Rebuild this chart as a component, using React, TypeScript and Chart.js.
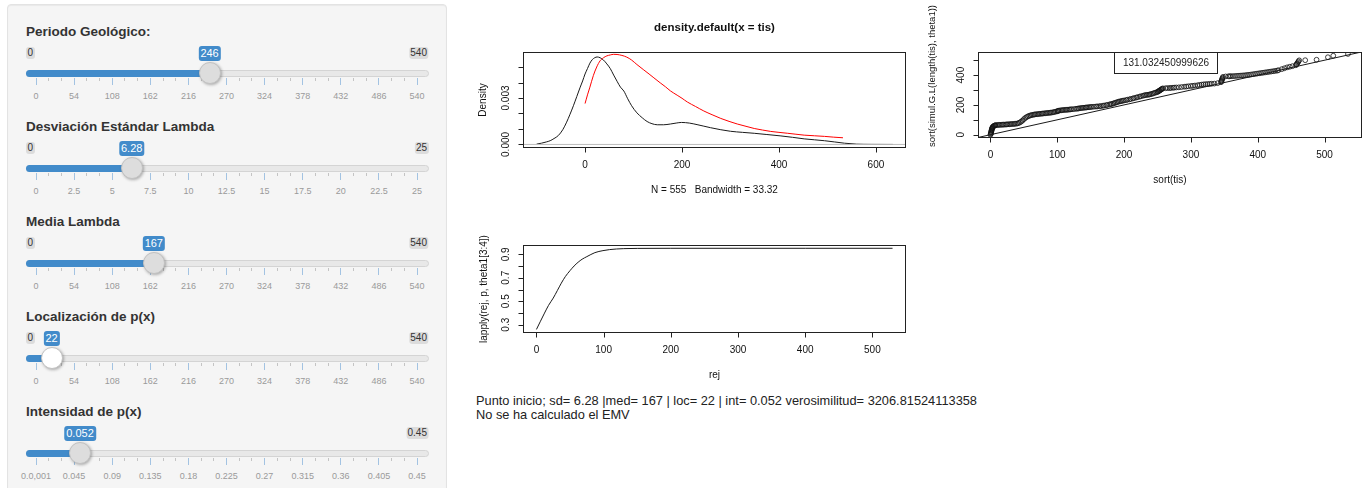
import React, { useEffect, useRef } from "react";
import { Chart, registerables } from "chart.js";

Chart.register(...registerables);

const FONT = '"Liberation Sans", Arial, sans-serif';

// ---------- Sidebar sliders ----------
const sliderTitles = [
  "Periodo Geológico:",
  "Desviación Estándar Lambda",
  "Media Lambda",
  "Localización de p(x)",
  "Intensidad de p(x)",
];
const sliderMins = [0, 0, 0, 0, 0];
const sliderMaxs = [540, 25, 540, 540, 0.45];
const sliderValues = [246, 6.28, 167, 22, 0.052];
const sliderValueText = ["246", "6.28", "167", "22", "0.052"];
const sliderMinText = ["0", "0", "0", "0", ""];
const sliderMaxText = ["540", "25", "540", "540", "0.45"];
const gridPeriodo = ["0", "54", "108", "162", "216", "270", "324", "378", "432", "486", "540"];
const gridSd = ["0", "2.5", "5", "7.5", "10", "12.5", "15", "17.5", "20", "22.5", "25"];
const gridInt = ["0.0,001", "0.045", "0.09", "0.135", "0.18", "0.225", "0.27", "0.315", "0.36", "0.405", "0.45"];
const sliderGrids = [gridPeriodo, gridSd, gridPeriodo, gridPeriodo, gridInt];

// ---------- Density plot ----------
const densityX = [-100, -90, -80, -72, -64, -55, -46, -38, -31, -24, -17, -10, -5, 0, 5, 10, 15, 20, 25, 31, 38, 45, 52, 59, 66, 73, 80, 88, 96, 107, 118, 128, 138, 149, 162, 176, 188, 199, 215, 231, 245, 259, 280, 300, 325, 349, 375, 404, 428, 452, 473, 494, 515, 535, 560, 590, 635];
const densityY = [0.00002, 0.00008, 0.00016, 0.00024, 0.00038, 0.00058, 0.00095, 0.00144, 0.00195, 0.0025, 0.0031, 0.0037, 0.0041, 0.00455, 0.0049, 0.00525, 0.00548, 0.0056, 0.00565, 0.0056, 0.00545, 0.0052, 0.0049, 0.00448, 0.00408, 0.0037, 0.00345, 0.00295, 0.0025, 0.00204, 0.00172, 0.00148, 0.00134, 0.00127, 0.00127, 0.00132, 0.00138, 0.00142, 0.00138, 0.00128, 0.00118, 0.00108, 0.00095, 0.00085, 0.00078, 0.00072, 0.00064, 0.00055, 0.00046, 0.00036, 0.0003, 0.00024, 0.00016, 0.00008, 0.00002, 0.000005, 0];
const fittedX = [0, 5, 10, 17, 24, 31, 38, 45, 52, 59, 66, 76, 86, 96, 107, 120, 132, 142, 155, 166, 176, 190, 200, 211, 228, 245, 262, 280, 297, 314, 332, 349, 366, 383, 400, 418, 435, 452, 473, 494, 513, 532];
const fittedY = [0.00264, 0.0032, 0.0037, 0.00444, 0.005, 0.0054, 0.0056, 0.00572, 0.00578, 0.00582, 0.00581, 0.00575, 0.00564, 0.00545, 0.00516, 0.00484, 0.00455, 0.0043, 0.00398, 0.00372, 0.00346, 0.00318, 0.00298, 0.00274, 0.00245, 0.00216, 0.00192, 0.00168, 0.00149, 0.00132, 0.00117, 0.00103, 0.00093, 0.00084, 0.00078, 0.00072, 0.00066, 0.0006, 0.00056, 0.00052, 0.00047, 0.00043];
const zeroLineX = [-300, 900];
const zeroLineY = [0, 0];
const densityXTicks = [0, 200, 400, 600];
const densityXLabels = ["0", "200", "400", "600"];
const densityYTicks = [0, 0.001, 0.002, 0.003, 0.004, 0.005];
const densityYLabels = ["0.000", "", "", "0.003", "", ""];

// ---------- QQ plot ----------
const qqX = [0, 0.5, 0.8, 1, 1.2, 1.5, 1.8, 2, 2.3, 2.6, 3, 3.5, 4, 5, 6, 7,
  8, 10, 12, 14, 16, 18, 20, 22, 24, 26, 28, 30, 32, 34, 36, 38, 40, 42,
  44, 46, 48, 50, 52, 54, 56, 58, 60, 62,
  64, 66, 68, 70, 72, 74, 76, 78, 80, 82, 84, 86, 88, 90, 92, 94, 96, 98, 100, 101, 102, 104,
  106, 108, 110, 112, 114, 116, 118, 120, 122, 125, 128, 130, 132, 134, 136, 138, 140, 142, 144, 146, 148, 150,
  152, 155, 158, 160, 163, 165, 168, 170, 173, 175, 178, 180, 182, 184, 186, 188, 190, 192, 194,
  196, 198, 200, 203, 205, 208, 210, 213, 215, 218, 220, 223, 225, 228, 230, 232,
  234, 236, 238, 240, 242, 244, 246, 248, 250, 251, 252, 253, 254, 255, 256, 257, 258,
  262, 265, 268, 270, 273, 275, 278, 282, 286, 290, 293, 296, 300, 303, 306, 310, 313, 316, 319, 322, 325, 328, 331, 335, 340,
  345, 345.5, 346, 346.5, 347, 347.5, 348,
  352, 356, 358, 360, 363, 366, 369, 372, 375, 378, 381, 384, 387, 390, 393, 396, 399, 402, 405, 408, 411, 414, 417, 420, 423, 426, 429, 431,
  436, 440, 444, 448, 452,
  457, 458, 459, 460, 461, 462,
  471, 488, 505, 513, 535];
const qqY = [0, 5, 10, 15, 20, 25, 30, 35, 40, 44, 48, 52, 55, 58, 61, 63,
  64, 65, 66, 66, 67, 67, 68, 68, 69, 70, 70, 71, 72, 72, 73, 74, 75, 78,
  82, 88, 95, 104, 112, 118, 123, 127, 130, 132,
  134, 136, 137, 138, 139, 140, 141, 142, 143, 144, 145, 146, 147, 148, 149, 151, 153, 155, 157, 160, 161, 163,
  164, 165, 166, 167, 167, 168, 169, 170, 171, 172, 174, 175, 176, 178, 179, 180, 181, 182, 183, 184, 185, 186,
  187, 188, 189, 190, 191, 192, 194, 196, 198, 200, 203, 205, 207, 210, 213, 216, 219, 222, 224,
  226, 228, 230, 232, 235, 237, 240, 243, 246, 249, 252, 255, 258, 261, 264, 266,
  267, 268, 270, 272, 275, 278, 281, 284, 287, 290, 293, 296, 299, 302, 305, 308, 311,
  312, 313, 313, 314, 315, 316, 317, 318, 320, 322, 323, 325, 327, 328, 330, 332, 334, 336, 338, 339, 340, 341, 342, 343, 346,
  352, 358, 364, 370, 376, 382, 388,
  391, 392, 392, 393, 393, 394, 395, 396, 397, 398, 399, 401, 402, 404, 406, 408, 410, 412, 414, 416, 418, 420, 422, 424, 426, 428, 430, 433,
  440, 446, 452, 456, 460,
  466, 472, 478, 485, 492, 499,
  500, 503, 520, 530, 542];
const qqDiagonal = [-60, 620];
const qqTicks = [0, 100, 200, 300, 400, 500];
const qqXLabels = ["0", "100", "200", "300", "400", "500"];
const qqYLabels = ["0", "", "200", "", "400", ""];
const qqLegendText = "131.032450999626";
const qqLegendBox = [185, 339, 411, 555];

// ---------- lapply plot ----------
const rejX = [0, 6, 12, 18, 25, 31, 37, 43, 50, 56, 62, 68, 75, 81, 87, 93, 99, 109, 119, 130, 150, 200, 300, 400, 530];
const lapplyY = [0.26, 0.33, 0.399, 0.465, 0.527, 0.59, 0.654, 0.71, 0.761, 0.8, 0.832, 0.858, 0.88, 0.898, 0.914, 0.924, 0.931, 0.94, 0.945, 0.948, 0.95, 0.951, 0.951, 0.951, 0.951];
const rejTicks = [0, 100, 200, 300, 400, 500];
const rejLabels = ["0", "100", "200", "300", "400", "500"];
const lapplyYTicks = [0.3, 0.4, 0.5, 0.6, 0.7, 0.8, 0.9];
const lapplyYLabels = ["0.3", "", "0.5", "", "0.7", "", "0.9"];

const summaryLine = "Punto inicio; sd= 6.28 |med= 167 | loc= 22 | int= 0.052 verosimilitud= 3206.81524113358";
const statusLine = "No se ha calculado el EMV";

const pts = (xs: number[], ys: number[]) => xs.map((x, i) => ({ x, y: ys[i] }));

type AxisSpec = {
  xTicks: number[];
  xLabels: string[];
  yTicks: number[];
  yLabels: string[];
  xTitle?: string;
  yTitle?: string;
  yTitleOffset?: number;
  yTitleCenter?: number;
  yTitleSize?: number;
  main?: string;
  mainY?: number;
  legend?: { box: number[]; text: string };
};

function makeRAxes(spec: AxisSpec) {
  return {
    id: "rAxes",
    afterDraw(chart: any) {
      const { ctx, chartArea: a } = chart;
      const xs = chart.scales.x;
      const ys = chart.scales.y;
      ctx.save();
      ctx.strokeStyle = "#222";
      ctx.fillStyle = "#111";
      ctx.lineWidth = 1;
      const L = Math.round(a.left) + 0.5;
      const R = Math.round(a.right) - 0.5;
      const T = Math.round(a.top) + 0.5;
      const B = Math.round(a.bottom) - 0.5;
      ctx.strokeRect(L, T, R - L, B - T);
      ctx.beginPath();
      spec.xTicks.forEach((v) => {
        const px = Math.round(xs.getPixelForValue(v)) + 0.5;
        ctx.moveTo(px, B);
        ctx.lineTo(px, B + 5);
      });
      spec.yTicks.forEach((v) => {
        const py = Math.round(ys.getPixelForValue(v)) + 0.5;
        ctx.moveTo(L, py);
        ctx.lineTo(L - 5, py);
      });
      ctx.stroke();
      ctx.font = `10px ${FONT}`;
      ctx.textAlign = "center";
      ctx.textBaseline = "middle";
      spec.xTicks.forEach((v, i) => {
        const lab = spec.xLabels[i];
        if (lab) ctx.fillText(lab, xs.getPixelForValue(v), a.bottom + 17);
      });
      spec.yTicks.forEach((v, i) => {
        const lab = spec.yLabels[i];
        if (lab) {
          ctx.save();
          ctx.translate(a.left - 17, ys.getPixelForValue(v));
          ctx.rotate(-Math.PI / 2);
          ctx.fillText(lab, 0, 0);
          ctx.restore();
        }
      });
      if (spec.xTitle) ctx.fillText(spec.xTitle, (a.left + a.right) / 2, a.bottom + 42);
      if (spec.yTitle) {
        ctx.save();
        ctx.font = `${spec.yTitleSize ?? 10}px ${FONT}`;
        ctx.translate(a.left - (spec.yTitleOffset ?? 40), spec.yTitleCenter ?? (a.top + a.bottom) / 2);
        ctx.rotate(-Math.PI / 2);
        ctx.fillText(spec.yTitle, 0, 0);
        ctx.restore();
      }
      if (spec.main) {
        ctx.font = `bold 11.5px ${FONT}`;
        ctx.fillText(spec.main, (a.left + a.right) / 2, spec.mainY ?? 18);
      }
      if (spec.legend) {
        const [x0, x1, y0, y1] = spec.legend.box;
        const lx0 = Math.round(xs.getPixelForValue(x0)) + 0.5;
        const lx1 = Math.round(xs.getPixelForValue(x1)) + 0.5;
        const ly0 = Math.round(ys.getPixelForValue(y0)) + 0.5;
        const ly1 = Math.round(ys.getPixelForValue(y1)) + 0.5;
        ctx.fillStyle = "#fff";
        ctx.fillRect(lx0, ly1, lx1 - lx0, ly0 - ly1);
        ctx.strokeRect(lx0, ly1, lx1 - lx0, ly0 - ly1);
        ctx.fillStyle = "#222";
        ctx.font = `10px ${FONT}`;
        ctx.fillText(spec.legend.text, (lx0 + lx1) / 2, (ly0 + ly1) / 2 + 0.5);
      }
      ctx.restore();
    },
  };
}

function lineDs(data: { x: number; y: number }[], color: string) {
  return {
    data,
    showLine: true,
    borderColor: color,
    backgroundColor: color,
    borderWidth: 1,
    pointRadius: 0,
    cubicInterpolationMode: "monotone" as const,
    fill: false,
  };
}

function baseOptions(xmin: number, xmax: number, ymin: number, ymax: number, pad: any) {
  return {
    responsive: false,
    animation: false as const,
    events: [] as any[],
    layout: { padding: pad },
    plugins: { legend: { display: false }, tooltip: { enabled: false }, title: { display: false } },
    scales: {
      x: { type: "linear" as const, min: xmin, max: xmax, display: false },
      y: { type: "linear" as const, min: ymin, max: ymax, display: false },
    },
  };
}

function densityConfig(): any {
  return {
    type: "scatter",
    data: {
      datasets: [
        lineDs(pts(fittedX, fittedY), "#ff0000"),
        lineDs(pts(zeroLineX, zeroLineY), "#bdbdbd"),
        lineDs(pts(densityX, densityY), "#1a1a1a"),
      ],
    },
    options: baseOptions(-128, 662, -0.00023, 0.00597, { left: 53, top: 42, right: 14, bottom: 52 }),
    plugins: [
      makeRAxes({
        xTicks: densityXTicks,
        xLabels: densityXLabels,
        yTicks: densityYTicks,
        yLabels: densityYLabels,
        xTitle: "N = 555   Bandwidth = 33.32",
        yTitle: "Density",
        yTitleOffset: 40,
        main: "density.default(x = tis)",
        mainY: 18,
      }),
    ],
  };
}

function qqConfig(): any {
  return {
    type: "scatter",
    data: {
      datasets: [
        lineDs(pts(qqDiagonal, qqDiagonal), "#1a1a1a"),
        {
          data: pts(qqX, qqY),
          showLine: false,
          pointStyle: "circle",
          pointRadius: 2.4,
          borderWidth: 0.8,
          borderColor: "#111",
          backgroundColor: "rgba(0,0,0,0)",
        },
      ],
    },
    options: baseOptions(-18.6, 556, -22, 555, { left: 58, top: 52, right: 7, bottom: 62 }),
    plugins: [
      makeRAxes({
        xTicks: qqTicks,
        xLabels: qqXLabels,
        yTicks: qqTicks,
        yLabels: qqYLabels,
        xTitle: "sort(tis)",
        yTitle: "sort(simul.G.L(length(tis), theta1))",
        yTitleOffset: 46,
        yTitleCenter: 76,
        yTitleSize: 9.5,
        legend: { box: qqLegendBox, text: qqLegendText },
      }),
    ],
  };
}

function lapplyConfig(): any {
  return {
    type: "scatter",
    data: { datasets: [lineDs(pts(rejX, lapplyY), "#1a1a1a")] },
    options: baseOptions(-20, 550, 0.2296, 0.979, { left: 53, top: 20, right: 14, bottom: 57 }),
    plugins: [
      makeRAxes({
        xTicks: rejTicks,
        xLabels: rejLabels,
        yTicks: lapplyYTicks,
        yLabels: lapplyYLabels,
        xTitle: "rej",
        yTitle: "lapply(rej, p, theta1[3:4])",
        yTitleOffset: 39,
      }),
    ],
  };
}

function RChart(props: { left: number; top: number; width: number; height: number; config: () => any }) {
  const ref = useRef<HTMLCanvasElement>(null);
  useEffect(() => {
    const chart = new Chart(ref.current as HTMLCanvasElement, props.config());
    return () => chart.destroy();
  }, []);
  return (
    <canvas
      ref={ref}
      width={props.width}
      height={props.height}
      style={{ position: "absolute", left: props.left, top: props.top, width: props.width, height: props.height }}
    />
  );
}

function Slider({ i }: { i: number }) {
  const L = 32 + i * 95.1;
  const x0 = 36;
  const span = 381;
  const hx = x0 + ((sliderValues[i] - sliderMins[i]) / (sliderMaxs[i] - sliderMins[i])) * span;
  const grid = sliderGrids[i];
  const step = span / (grid.length - 1);
  const abs: React.CSSProperties = { position: "absolute" };
  const minors: number[] = [];
  for (let k = 0; k < grid.length - 1; k++) {
    minors.push(x0 + k * step + step / 3, x0 + k * step + (2 * step) / 3);
  }
  return (
    <>
      <div style={{ ...abs, left: 26, top: L - 9, fontSize: 13.5, fontWeight: "bold", lineHeight: "18px", color: "#333", whiteSpace: "nowrap" }}>
        {sliderTitles[i]}
      </div>
      <div style={{ ...abs, left: 26, top: L + 38, width: 402.7, height: 7, background: "#e8e8e8", border: "1px solid #d4d4d4", borderRadius: 4, boxSizing: "border-box" }} />
      <div style={{ ...abs, left: 26, top: L + 38, width: hx - 26, height: 7, background: "#428bca", borderRadius: "4px 0 0 4px" }} />
      {grid.map((_, k) => (
        <div key={"M" + k} style={{ ...abs, left: x0 + k * step - 0.5, top: L + 45.5, width: 1, height: 7, background: "#a3c3e2" }} />
      ))}
      {minors.map((mx, k) => (
        <div key={"m" + k} style={{ ...abs, left: mx - 0.5, top: L + 45.5, width: 1, height: 3.5, background: "#c4c4c4" }} />
      ))}
      {grid.map((g, k) => (
        <div key={"g" + k} style={{ ...abs, left: x0 + k * step, top: L + 58, transform: "translateX(-50%)", fontSize: 9, lineHeight: "12px", color: "#9a9a9a", whiteSpace: "nowrap" }}>
          {g}
        </div>
      ))}
      {sliderMinText[i] && (
        <div style={{ ...abs, left: 26, top: L + 15, fontSize: 10, lineHeight: "12px", padding: "0 1.5px", background: "#dcdcdc", color: "#333", borderRadius: 3 }}>
          {sliderMinText[i]}
        </div>
      )}
      <div style={{ ...abs, left: 428.5, top: L + 15, transform: "translateX(-100%)", fontSize: 10, lineHeight: "12px", padding: "0 1.5px", background: "#dcdcdc", color: "#333", borderRadius: 3, whiteSpace: "nowrap" }}>
        {sliderMaxText[i]}
      </div>
      <div style={{ ...abs, left: hx, top: L + 14, transform: "translateX(-50%)", fontSize: 11, lineHeight: "15px", padding: "0 2px", background: "#428bca", color: "#fff", borderRadius: 3, whiteSpace: "nowrap" }}>
        {sliderValueText[i]}
      </div>
      <div
        style={{
          ...abs,
          left: hx - 11,
          top: L + 29.7,
          width: 22,
          height: 22,
          borderRadius: "50%",
          background: i === 3 ? "#ffffff" : "#dddddd",
          border: "1px solid #c2c2c2",
          boxSizing: "border-box",
          boxShadow: "1px 1px 3px rgba(0,0,0,0.3)",
        }}
      />
    </>
  );
}

export default function App() {
  return (
    <div style={{ position: "fixed", left: 0, top: 0, width: 1369, height: 488, overflow: "hidden", background: "#fff", fontFamily: FONT }}>
      <div
        style={{
          position: "absolute",
          left: 7,
          top: 4,
          width: 440,
          height: 520,
          background: "#f5f5f5",
          border: "1px solid #e3e3e3",
          borderRadius: 4,
          boxSizing: "border-box",
          boxShadow: "inset 0 1px 1px rgba(0,0,0,0.05)",
        }}
      />
      {sliderTitles.map((_, i) => (
        <Slider key={i} i={i} />
      ))}
      <RChart left={470} top={10} width={450} height={190} config={densityConfig} />
      <RChart left={920} top={0} width={449} height={200} config={qqConfig} />
      <RChart left={470} top={225} width={450} height={165} config={lapplyConfig} />
      <div style={{ position: "absolute", left: 476, top: 393.5, fontSize: 12.8, lineHeight: "14.5px", color: "#222", whiteSpace: "nowrap" }}>
        <div>{summaryLine}</div>
        <div>{statusLine}</div>
      </div>
    </div>
  );
}
